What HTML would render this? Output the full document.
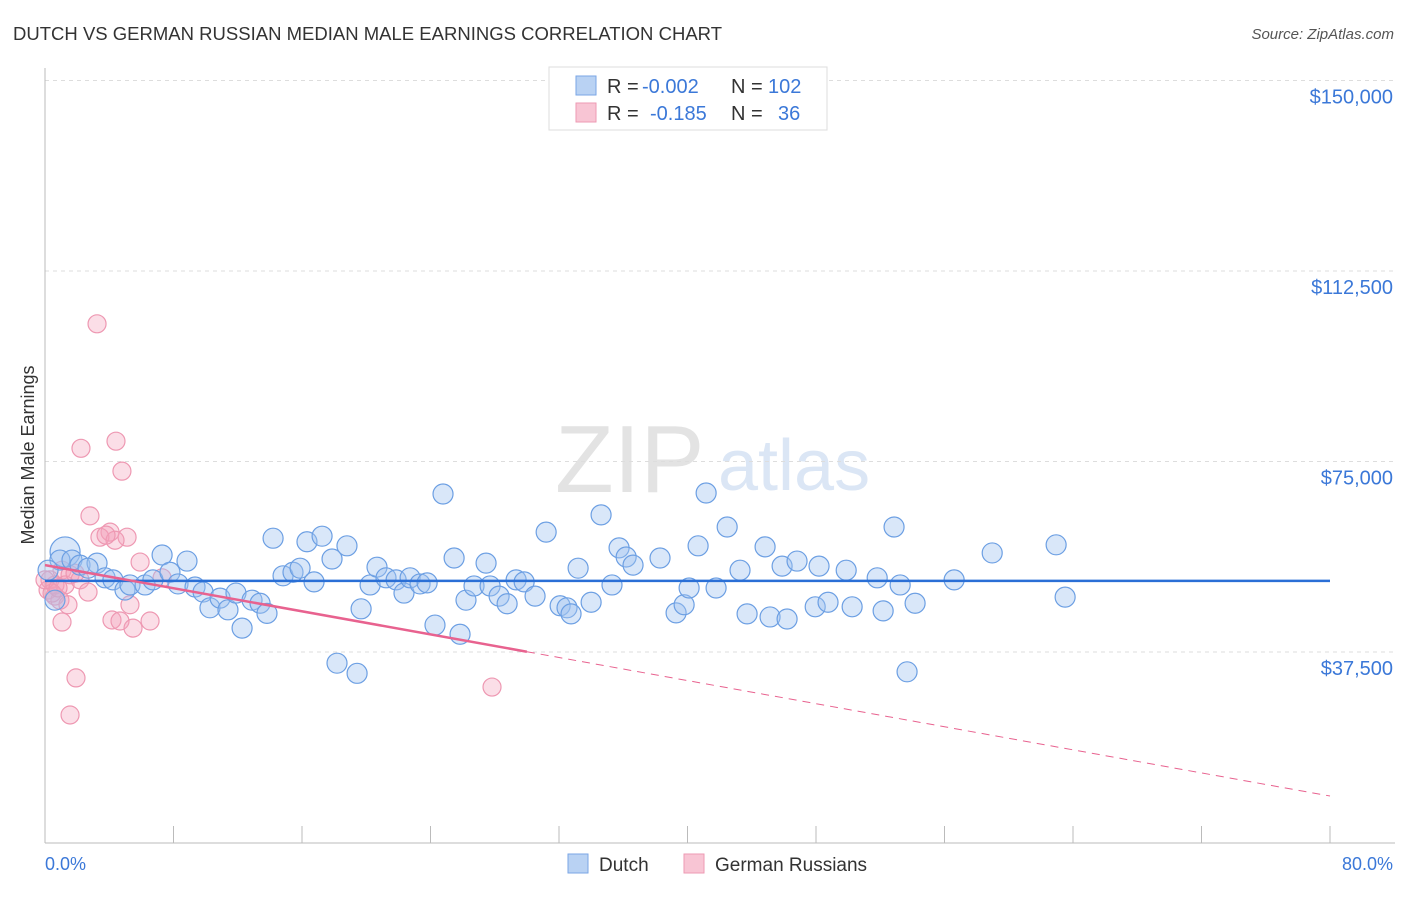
<!DOCTYPE html>
<html><head><meta charset="utf-8"><style>
body{margin:0;background:#fff;font-family:"Liberation Sans",sans-serif;}
svg text{font-family:"Liberation Sans",sans-serif;}
</style></head><body>
<svg id="chart" width="1406" height="892" xmlns="http://www.w3.org/2000/svg">
<text x="13" y="40" font-size="18.5" fill="#333" textLength="709">DUTCH VS GERMAN RUSSIAN MEDIAN MALE EARNINGS CORRELATION CHART</text>
<text x="1394" y="39" font-size="15" fill="#555" font-style="italic" text-anchor="end">Source: ZipAtlas.com</text>
<g><text x="555" y="492" font-size="96" fill="#e3e3e3" font-family="Liberation Serif">ZIP</text><text x="718" y="490" font-size="72" fill="#dbe6f5">atlas</text></g>
<g id="grid"></g><g id="marks"></g>
<text transform="translate(34,455) rotate(-90)" font-size="18" fill="#333" text-anchor="middle">Median Male Earnings</text>
<text x="45" y="870" font-size="18" fill="#3b78d8">0.0%</text>
<text x="1393" y="870" font-size="18" fill="#3b78d8" text-anchor="end">80.0%</text>
<g>
<rect x="549" y="67" width="278" height="63" fill="#fff" stroke="#ddd"/>
<rect x="576" y="76" width="20" height="19" fill="#b9d2f3" stroke="#7aa6e6"/>
<rect x="576" y="103" width="20" height="19" fill="#f8c5d4" stroke="#ee9ab3"/>
<text x="607" y="93" font-size="20" fill="#333">R =</text>
<text x="642" y="93" font-size="20" fill="#3b78d8">-0.002</text>
<text x="731" y="93" font-size="20" fill="#333">N =</text>
<text x="768" y="93" font-size="20" fill="#3b78d8">102</text>
<text x="607" y="120" font-size="20" fill="#333">R =</text>
<text x="650" y="120" font-size="20" fill="#3b78d8">-0.185</text>
<text x="731" y="120" font-size="20" fill="#333">N =</text>
<text x="778" y="120" font-size="20" fill="#3b78d8">36</text>
</g>
<g>
<rect x="568" y="854" width="20" height="19" fill="#b9d2f3" stroke="#7aa6e6"/>
<text x="599" y="871" font-size="19" fill="#333">Dutch</text>
<rect x="684" y="854" width="20" height="19" fill="#f8c5d4" stroke="#ee9ab3"/>
<text x="715" y="871" font-size="19" fill="#333">German Russians</text>
</g>
</svg>
<script>
const yTicks=[37500,75000,112500,150000];
const yTickLabels=["$37,500","$75,000","$112,500","$150,000"];
const dutchX=[1.25,.93,.19,.62,1.68,2.18,3.24,2.68,3.74,4.23,4.98,5.29,6.23,6.72,7.29,7.78,8.28,8.84,9.34,9.84,10.27,10.9,11.39,11.89,12.27,12.89,13.39,13.82,14.2,14.82,15.44,15.88,16.31,16.75,17.25,17.87,18.18,18.8,19.43,19.68,20.24,20.67,21.23,21.86,22.35,22.73,23.35,23.79,24.28,24.78,25.47,25.84,26.21,26.71,27.46,27.71,28.27,28.77,29.33,29.83,30.51,31.2,32.07,32.5,32.75,33.19,34.0,34.62,35.3,35.74,36.18,36.61,38.29,39.29,39.79,40.1,40.66,41.16,41.78,42.47,43.27,43.71,44.83,45.14,45.89,46.2,46.82,47.95,48.19,48.75,49.88,50.25,51.81,52.18,52.86,53.24,53.67,54.17,56.6,58.97,62.95,63.51];
const dutchY=[57.2,55.6,53.6,47.7,55.6,54.6,55.0,54.0,52.1,51.7,49.7,50.7,50.7,51.7,56.6,53.2,50.9,55.4,50.3,49.3,46.2,48.1,45.8,49.1,42.2,47.7,47.1,45.1,59.9,52.5,53.2,54.0,59.2,51.3,60.3,55.8,35.3,58.4,33.3,46.0,50.7,54.2,52.1,51.7,49.1,52.1,50.9,51.1,42.8,68.6,56.0,41.0,47.7,50.5,55.0,50.5,48.5,47.0,51.7,51.3,48.5,61.1,46.6,46.2,45.0,54.0,47.3,64.5,50.7,58.0,56.2,54.6,56.0,45.2,46.8,50.1,58.4,68.8,50.1,62.1,53.6,45.0,58.2,44.4,54.4,44.0,55.4,46.4,54.4,47.3,53.6,46.4,52.1,45.6,62.1,50.7,33.6,47.1,51.7,57.0,58.6,48.3];
const germanX=[3.24,4.42,2.24,4.79,2.8,4.05,3.42,5.11,4.36,3.8,5.92,1.06,1.56,.31,.19,.62,1.25,1.87,2.18,2.68,.93,1.43,1.06,4.17,4.67,5.29,5.48,6.54,7.29,1.93,1.56,27.83,.62,.44,0,.81];
const germanY=[102.1,79.0,77.6,73.1,64.3,61.1,60.1,60.1,59.5,60.5,55.2,53.6,52.7,51.7,49.7,48.5,50.7,53.0,51.7,49.3,47.7,46.8,43.4,43.8,43.6,46.8,42.2,43.6,52.1,32.4,25.1,30.6,50.7,49.1,51.7,50.1];
const dutchTrend=[51500,51500];
const germanTrend=[54600,9150];
const NS="http://www.w3.org/2000/svg";
const X0=45,X1=1330,YB=842.5,PXPER=190.5/37500;
const xs=p=>X0+(X1-X0)*p/80;
const ys=v=>YB-v*PXPER;
function mk(tag,attrs,parent){const e=document.createElementNS(NS,tag);for(const k in attrs)e.setAttribute(k,attrs[k]);parent.appendChild(e);return e;}
const grid=document.getElementById('grid'),marks=document.getElementById('marks');
yTicks.forEach((t,i)=>{
  const l=mk('line',{x1:45,x2:1395,y1:ys(t),y2:ys(t),stroke:'#ddd','stroke-dasharray':'4,4'},grid);
  
  
  const tx=mk('text',{x:1393,y:ys(t)+23,'font-size':20,fill:'#3b78d8','text-anchor':'end'},grid);
  tx.textContent=yTickLabels[i];
  
  
});
const ax=mk('line',{x1:45,x2:45,y1:68,y2:843,stroke:'#bbb'},grid);


const bx=mk('line',{x1:45,x2:1395,y1:843,y2:843,stroke:'#bbb'},grid);


for(let i=0;i<=10;i++){
  const tk=mk('line',{x1:xs(i*8),x2:xs(i*8),y1:826,y2:843,stroke:'#bbb'},grid);
  
  
}
germanX.forEach((x,i)=>{
  const c=mk('circle',{cx:xs(x),cy:ys(germanY[i]*1000),r:9,fill:'rgba(244,160,185,0.35)',stroke:'#ee98b2','stroke-width':1.2},marks);
  
  
});
dutchX.forEach((x,i)=>{
  const c=mk('circle',{cx:xs(x),cy:ys(dutchY[i]*1000),r:i==0?15:10,fill:'rgba(160,195,240,0.4)',stroke:'#6c9fe3','stroke-width':1.2},marks);
  
  
});
const dt=mk('line',{x1:xs(0),x2:xs(80),y1:ys(dutchTrend[0]),y2:ys(dutchTrend[1]),stroke:'#2a6fd6','stroke-width':2.5},marks);


const gy=p=>germanTrend[0]+(germanTrend[1]-germanTrend[0])*p/80;
const gs=mk('line',{x1:xs(0),x2:xs(30),y1:ys(gy(0)),y2:ys(gy(30)),stroke:'#e8628f','stroke-width':2.5},marks);


const gd=mk('line',{x1:xs(30),x2:xs(80),y1:ys(gy(30)),y2:ys(gy(80)),stroke:'#e8628f','stroke-width':1,'stroke-dasharray':'8,6'},marks);


</script>
</body></html>
